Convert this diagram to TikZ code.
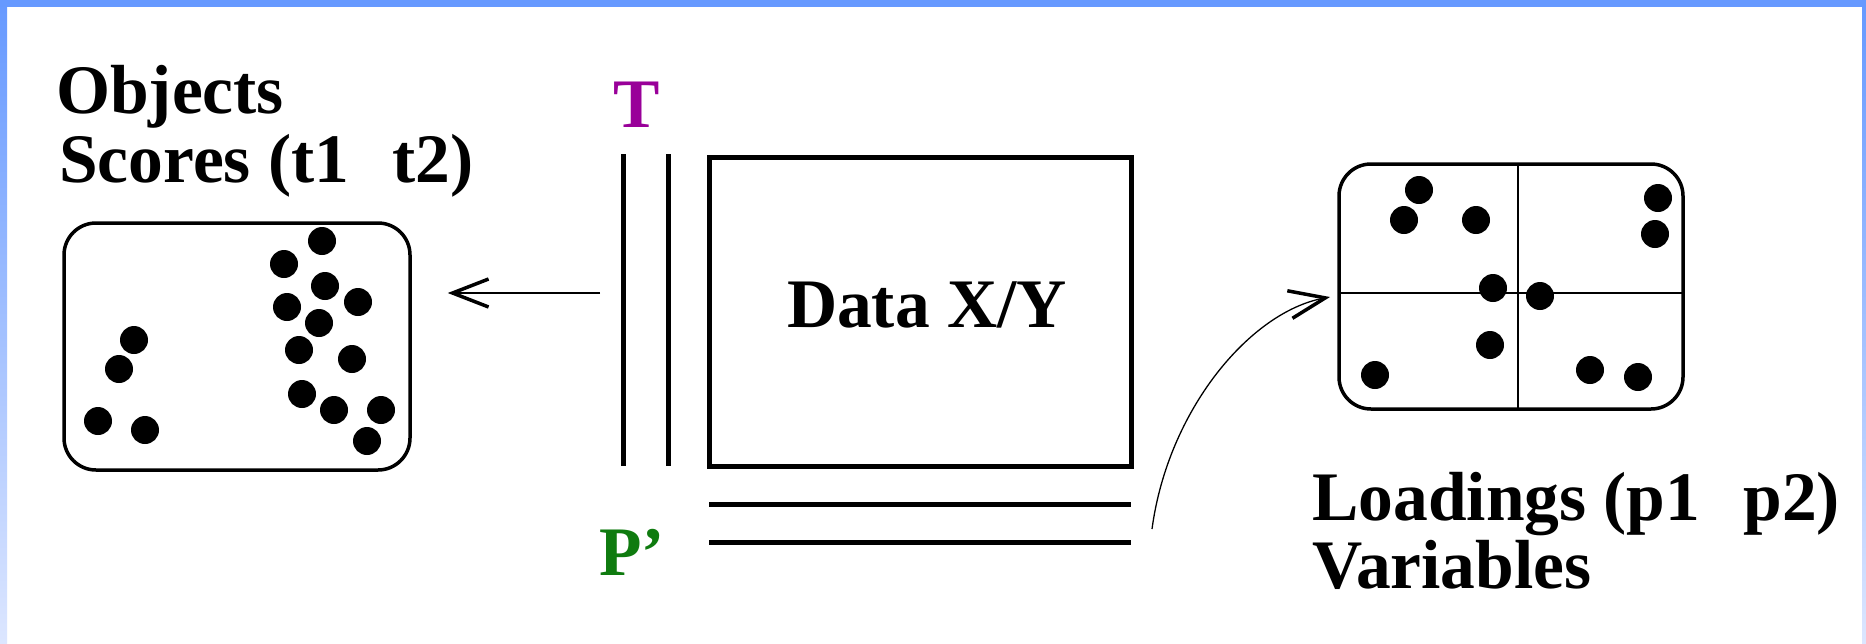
\documentclass[tikz,border=0pt]{standalone}
\usepackage{fontspec}
\setmainfont{Liberation Serif}
\usepackage{tikz}
\usetikzlibrary{arrows.meta}
\definecolor{tcol}{HTML}{990099}
\definecolor{pcol}{HTML}{0F7B0F}
\definecolor{rim}{HTML}{6699FF}
\definecolor{rimlo}{HTML}{DCE6FF}

\begin{document}
\begin{tikzpicture}[x=1pt,y=-1pt,
  lbl/.style={font=\bfseries\fontsize{69.5}{80}\selectfont,inner sep=0pt},
  panel/.style={draw,line width=3.5pt,rounded corners=32pt,inner sep=0pt},
  thickbar/.style={line width=5pt},
  arr/.style={line width=1.3pt,-{Straight Barb[length=36pt,width=28pt,line width=3.5pt]}}]
  \useasboundingbox (0,0) rectangle (1866,643);
  \fill[white] (0,0) rectangle (1866,643);
  \shade[top color=rim,bottom color=rimlo] (0,0) rectangle (7,643);
  \shade[top color=rim,bottom color=rimlo] (1862,0) rectangle (1866,643);
  \fill[rim] (0,0) rectangle (1866,7);
  \node[panel,minimum width=346pt,minimum height=247pt] (scores) at (237,346.5) {};
  \foreach \x/\y in {322/241,284/264,325/286,358/302,287/307,319/323,134/340,299/350,
    352/359,119/369,302/394,334/410,381/410,98/421,145/430,367/441}
    \fill (\x,\y) circle (14pt);
  \node[lbl,anchor=base west] (objlbl) at (56,113) {Objects};
  \node[lbl,anchor=base west] (scorelbl) at (59,182) {Scores (t1\hspace{0.62em}t2)};
  \node[lbl,tcol,anchor=base] (tlbl) at (637,127) {T};
  \draw[thickbar] (623,154) -- (623,466);
  \draw[thickbar] (668,154) -- (668,466);
  \node[draw,line width=5pt,minimum width=422pt,minimum height=309pt,inner sep=0pt] (data) at (920,311.5) {};
  \node[lbl,anchor=base] (datalbl) at (927,327) {Data X/Y};
  \draw[thickbar] (709,504) -- (1131,504);
  \draw[thickbar] (709,542) -- (1131,542);
  \node[lbl,pcol,anchor=base west] (plbl) at (599,575) {P’};
  \coordinate (tfrom) at (600,293);
  \draw[arr,shorten >=36pt] (tfrom) -- (tfrom -| scores.east);
  \node[panel,minimum width=344pt,minimum height=245pt] (load) at (1511,286.5) {};
  \draw[line width=1.5pt] (1518,164) -- (1518,409) (1339,293) -- (1683,293);
  \foreach \x/\y in {1419/190,1404/220,1476/220,1658/198,1655/234,1493/288,1540/296,
    1490/345,1375/375,1590/370,1638/377}
    \fill (\x,\y) circle (14pt);
  \coordinate (pfrom) at (1152,529);
  \coordinate (ltip) at (1330,297);
  \draw[arr] (pfrom) .. controls (1168,410) and (1250,312) .. (ltip);
  \node[lbl,anchor=base west] (loadlbl) at (1312,520) {Loadings (p1\hspace{0.62em}p2)};
  \node[lbl,anchor=base west] (varlbl) at (1312,588) {Variables};
\end{tikzpicture}
\end{document}
